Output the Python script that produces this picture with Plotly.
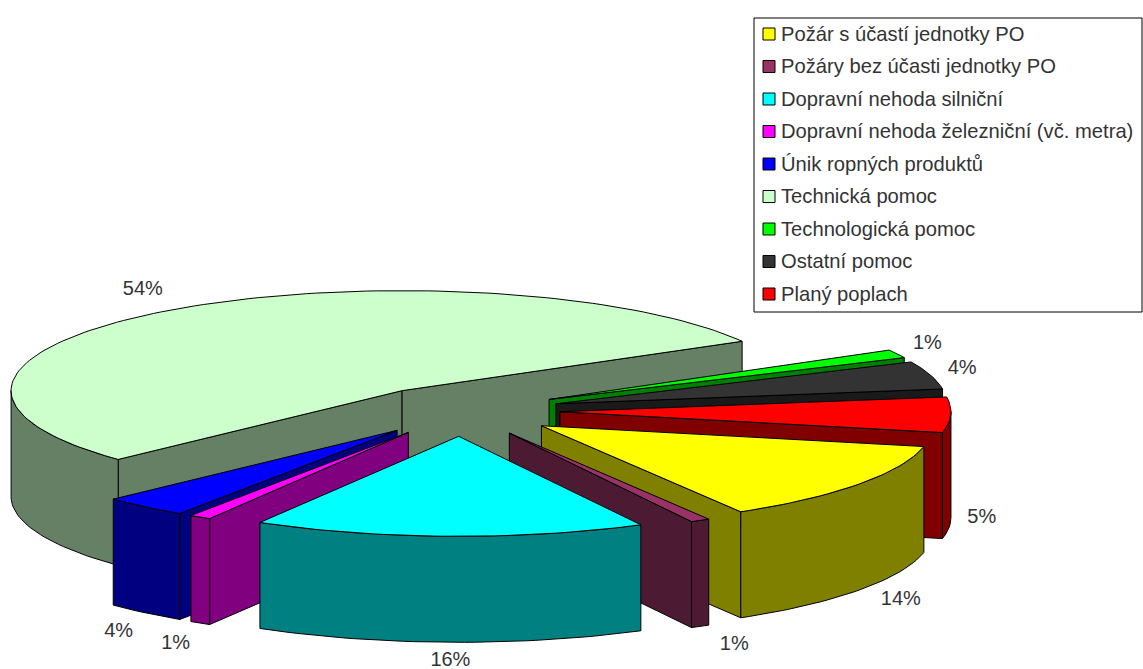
import math
import plotly.graph_objects as go

categories = ["Požár s účastí jednotky PO", "Požáry bez účasti jednotky PO",
              "Dopravní nehoda silniční", "Dopravní nehoda železniční (vč. metra)",
              "Únik ropných produktů", "Technická pomoc", "Technologická pomoc",
              "Ostatní pomoc", "Planý poplach"]
# shares; the labels show them rounded as printed
shares = [13.15, 0.8, 16.2, 0.9, 3.55, 53.85, 1.35, 4.5, 5.7]
labels = ["14%", "1%", "16%", "1%", "4%", "54%", "1%", "4%", "5%"]
top_colors = ["#FFFF00", "#993366", "#00FFFF", "#FF00FF", "#0000FF",
              "#CCFFCC", "#00FF00", "#333333", "#FF0000"]
side_colors = ["#808000", "#4D1A33", "#008080", "#800080", "#000080",
               "#668066", "#008000", "#1A1A1A", "#800000"]

# projection of the exploded pie, in page pixels
W, H = 1143, 669
CX, CY = 461, 411
RX, RY = 391, 100
EXPLODE = 99
DEPTH = 106
FIRST_ANGLE = -12.0   # where the first slice starts, going clockwise
draw_order = [5, 6, 7, 8, 0, 1, 4, 3, 2]
label_nudge = {0: (15, -1), 1: (18, 3), 2: (2, 1), 3: (-7, 6), 4: (-5, 5),
               5: (-7, -6), 6: (1, -2), 7: (0, -1), 8: (-2, -3)}

total = sum(shares)
spans = []
a = FIRST_ANGLE
for s_ in shares:
    b = a - 360.0 * s_ / total
    # keep the angles of the slices past a full turn in the same range as the first ones
    spans.append((b + 360, a + 360) if b < -360 else (b, a))
    a = b


def pt(apex, t):
    return apex[0] + RX * math.cos(math.radians(t)), apex[1] - RY * math.sin(math.radians(t))


def arc(apex, lo, hi):
    n = max(2, int(abs(hi - lo) / 1.5) + 2)
    return [pt(apex, lo + (hi - lo) * k / (n - 1)) for k in range(n)]


def poly(points, fill, group):
    xs = [p[0] for p in points] + [points[0][0]]
    ys = [p[1] for p in points] + [points[0][1]]
    return go.Scatter(x=xs, y=ys, mode="lines", fill="toself", fillcolor=fill,
                      line=dict(color="#000000", width=1), hoverinfo="skip",
                      showlegend=False, legendgroup=group)


def down(p):
    return p[0], p[1] + DEPTH


def apex_of(lo, hi):
    mid = math.radians((lo + hi) / 2)
    return CX + EXPLODE * math.cos(mid), CY - EXPLODE * math.sin(mid) * RY / RX


fig = go.Figure()
label_x, label_y, label_t = [], [], []
for i in draw_order:
    lo, hi = spans[i]
    apex = apex_of(lo, hi)
    side = side_colors[i]
    group = categories[i]
    # cut faces that look towards the viewer
    if math.cos(math.radians(hi)) < 0:
        e = pt(apex, hi)
        fig.add_trace(poly([apex, e, down(e), down(apex)], side, group))
    if math.cos(math.radians(lo)) > 0:
        e = pt(apex, lo)
        fig.add_trace(poly([apex, e, down(e), down(apex)], side, group))
    # outer rim: only the part on the front half
    l, h = max(lo, -180), min(hi, 0)
    if h > l:
        edge = arc(apex, l, h)
        fig.add_trace(poly(edge + [down(p) for p in reversed(edge)], side, group))
    # top face
    fig.add_trace(poly([apex] + arc(apex, lo, hi), top_colors[i], group))
    # percentage label
    mid = (lo + hi) / 2
    ex, ey = pt(apex, mid)
    c, s = math.cos(math.radians(mid)), math.sin(math.radians(mid))
    if s < 0.05:
        ey += DEPTH
    nx, ny = label_nudge.get(i, (0, 0))
    label_x.append(ex + 33 * c + nx)
    label_y.append(ey - 18 * s + ny)
    label_t.append(labels[i])

fig.add_trace(go.Scatter(x=label_x, y=label_y, text=label_t, mode="text",
                         textposition="middle center", hoverinfo="skip", showlegend=False,
                         textfont=dict(family="Liberation Sans", size=20, color="#333333")))

# legend: native entries for the text, square swatches set closer to the text
for name in categories:
    fig.add_trace(go.Scatter(x=[None], y=[None], mode="lines", name=name, legendgroup=name,
                             line=dict(color="rgba(0,0,0,0)", width=1)))
fig.add_trace(go.Scatter(x=[769] * len(categories), y=[34 + 32.5 * k for k in range(len(categories))],
                         mode="markers", hoverinfo="skip", showlegend=False,
                         marker=dict(symbol="square", size=12, color=top_colors,
                                     line=dict(color="#000000", width=1))))

fig.update_layout(
    width=W, height=H, margin=dict(l=0, r=0, t=0, b=0),
    paper_bgcolor="white", plot_bgcolor="white",
    xaxis=dict(range=[0, W], visible=False, fixedrange=True),
    yaxis=dict(range=[H, 0], visible=False, fixedrange=True),
    shapes=[dict(type="rect", xref="x", yref="y", x0=754, x1=1142, y0=18, y1=312,
                 line=dict(color="#000000", width=1), fillcolor="white", layer="below")],
    legend=dict(x=741 / W, y=1 - 13 / H, xanchor="left", yanchor="top",
                bgcolor="rgba(0,0,0,0)", borderwidth=0,
                tracegroupgap=3.3, traceorder="grouped",
                font=dict(family="Liberation Sans", size=20.2, color="#333333")),
)
fig.write_html("out.html", config=dict(displayModeBar=False),
               post_script="document.body.style.margin='0';document.body.style.overflow='hidden';")
